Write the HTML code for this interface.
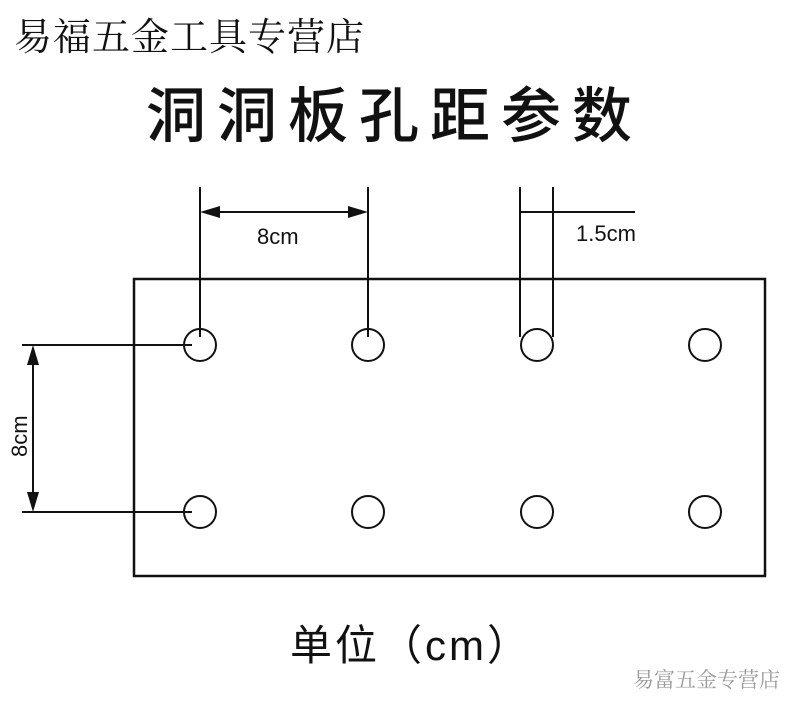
<!DOCTYPE html>
<html><head><meta charset="utf-8"><style>
body{margin:0;width:800px;height:710px;background:#fff;overflow:hidden;position:relative}
.t{position:absolute;white-space:nowrap;color:#111}
</style></head><body>
<div class="t" style="left:14px;top:6px;font:38px 'Noto Serif CJK SC',serif;letter-spacing:1px">易福五金工具专营店</div>
<div class="t" style="left:146px;top:68px;font:500 60px 'Noto Sans CJK SC',sans-serif;letter-spacing:11px">洞洞板孔距参数</div>
<svg style="position:absolute;left:0;top:0" width="800" height="710" stroke="#111" fill="none" stroke-width="2">
<rect x="134" y="279" width="631" height="297" stroke-width="2.5"/>
<g>
<circle cx="200" cy="345" r="16"/><circle cx="368" cy="345" r="16"/><circle cx="537" cy="345" r="16"/><circle cx="705" cy="345" r="16"/>
<circle cx="200" cy="512" r="16"/><circle cx="368" cy="512" r="16"/><circle cx="537" cy="512" r="16"/><circle cx="705" cy="512" r="16"/>
</g>
<line x1="200" y1="187" x2="200" y2="337"/><line x1="368" y1="187" x2="368" y2="337"/>
<line x1="520" y1="187" x2="520" y2="337"/><line x1="553" y1="187" x2="553" y2="337"/>
<line x1="208" y1="212" x2="360" y2="212"/><line x1="520" y1="212" x2="635" y2="212"/>
<polygon points="200,212 220,206 220,218" fill="#111" stroke="none"/>
<polygon points="368,212 348,206 348,218" fill="#111" stroke="none"/>
<line x1="22" y1="345" x2="192" y2="345"/><line x1="22" y1="512" x2="192" y2="512"/>
<line x1="33" y1="355" x2="33" y2="502"/>
<polygon points="33,345 27,365 39,365" fill="#111" stroke="none"/>
<polygon points="33,512 27,492 39,492" fill="#111" stroke="none"/>
<text x="257" y="244" font-family="Liberation Sans,sans-serif" font-size="22" fill="#111" stroke="none">8cm</text>
<text x="576" y="241" font-family="Liberation Sans,sans-serif" font-size="22" fill="#111" stroke="none">1.5cm</text>
<text transform="translate(27,457) rotate(-90)" font-family="Liberation Sans,sans-serif" font-size="22" fill="#111" stroke="none">8cm</text>
</svg>
<div class="t" style="left:290px;top:612px;font:42px 'Liberation Sans','Noto Sans CJK SC',sans-serif;letter-spacing:3px">单位（cm）</div>
<div class="t" style="left:633px;top:664px;font:21px 'Noto Serif CJK SC',serif;color:#999">易富五金专营店</div>
</body></html>
